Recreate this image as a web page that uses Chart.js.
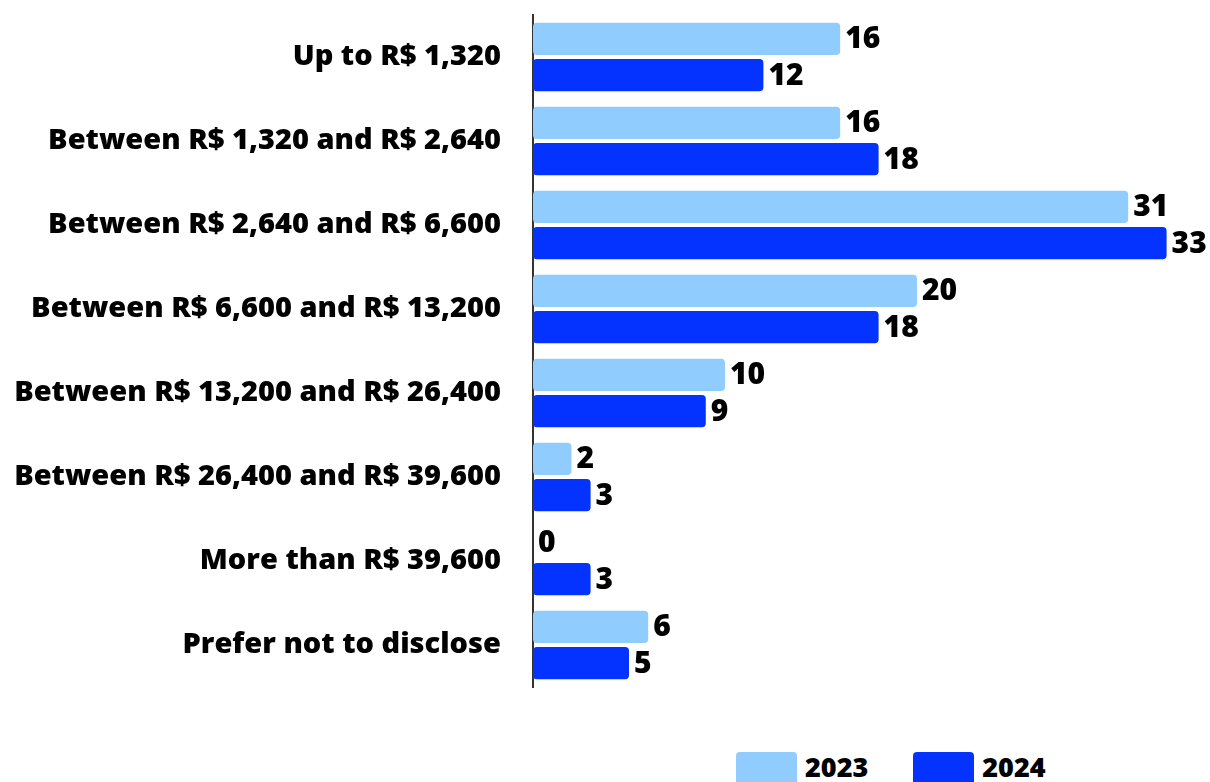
<!DOCTYPE html>
<html>
<head>
<meta charset="utf-8">
<script src="https://cdn.jsdelivr.net/npm/chart.js@4/dist/chart.umd.min.js"></script>
<style>
  html, body { margin: 0; padding: 0; background: #fff; overflow: hidden; }
  #wrap { position: relative; width: 1210px; height: 782px; }
  #chartBox { position: absolute; left: 0; top: 0; width: 1210px; height: 700px; }
  .legend { position: absolute; top: 752px; display: flex; align-items: flex-start;
            font-family: 'Open Sans', 'Noto Sans', sans-serif; font-weight: 800; font-size: 27px; color: #000; }
  .legend .sw { width: 61px; height: 36px; border-radius: 4px; margin-right: 8px; }
  .legend .lbl { line-height: 30px; }
</style>
</head>
<body>
<div id="wrap">
  <div id="chartBox"><canvas id="incomeChart"></canvas></div>
  <div class="legend" id="legend" style="left:736px"></div>
</div>
<script>
// categories and values (%)
const categories = [
    'Up to R$ 1,320',
    'Between R$ 1,320 and R$ 2,640',
    'Between R$ 2,640 and R$ 6,600',
    'Between R$ 6,600 and R$ 13,200',
    'Between R$ 13,200 and R$ 26,400',
    'Between R$ 26,400 and R$ 39,600',
    'More than R$ 39,600',
    'Prefer not to disclose'
];
const seriesNames = ['2023', '2024'];
const values2023 = [16, 16, 31, 20, 10, 2, 0, 6];
const values2024 = [12, 18, 33, 18, 9, 3, 3, 5];
const colors = ['#90CDFE', '#0433FF'];

const FONT = "'Open Sans', 'Noto Sans', sans-serif";

// value labels at the end of each bar
const barValueLabels = {
    id: 'barValueLabels',
    afterDatasetsDraw(chart) {
        const ctx = chart.ctx;
        ctx.save();
        ctx.font = "800 30px " + FONT;
        ctx.fillStyle = '#000';
        ctx.textAlign = 'left';
        ctx.textBaseline = 'middle';
        chart.data.datasets.forEach((ds, i) => {
            chart.getDatasetMeta(i).data.forEach((bar, j) => {
                ctx.fillText(String(ds.data[j]), bar.x + 5, bar.y + 1);
            });
        });
        ctx.restore();
    }
};

new Chart(document.getElementById('incomeChart'), {
    type: 'bar',
    data: {
        labels: categories,
        datasets: [
            { label: seriesNames[0], data: values2023, backgroundColor: colors[0] },
            { label: seriesNames[1], data: values2024, backgroundColor: colors[1] }
        ]
    },
    options: {
        indexAxis: 'y',
        responsive: true,
        maintainAspectRatio: false,
        animation: false,
        categoryPercentage: 0.86,
        barPercentage: 0.89,
        layout: { padding: { top: 15, right: 5, bottom: 13, left: 0 } },
        datasets: { bar: { borderRadius: 4, borderSkipped: false } },
        plugins: {
            legend: { display: false },
            tooltip: { enabled: false }
        },
        scales: {
            x: { display: false, min: 0, max: 35 },
            y: {
                afterFit: s => { s.width = 533; s.paddingTop = 0; s.paddingBottom = 0; },
                grid: { display: false },
                border: { display: true, color: '#333', width: 2 },
                ticks: {
                    padding: 24,
                    color: '#000',
                    font: { family: FONT, size: 29, weight: '800' }
                }
            }
        }
    },
    plugins: [barValueLabels]
});

// legend
const legendEl = document.getElementById('legend');
seriesNames.forEach((name, i) => {
    const item = document.createElement('div');
    item.style.display = 'flex';
    item.style.marginRight = i === 0 ? '45px' : '0';
    item.innerHTML = '<div class="sw" style="background:' + colors[i] + '"></div><div class="lbl">' + name + '</div>';
    legendEl.appendChild(item);
});
</script>
</body>
</html>
